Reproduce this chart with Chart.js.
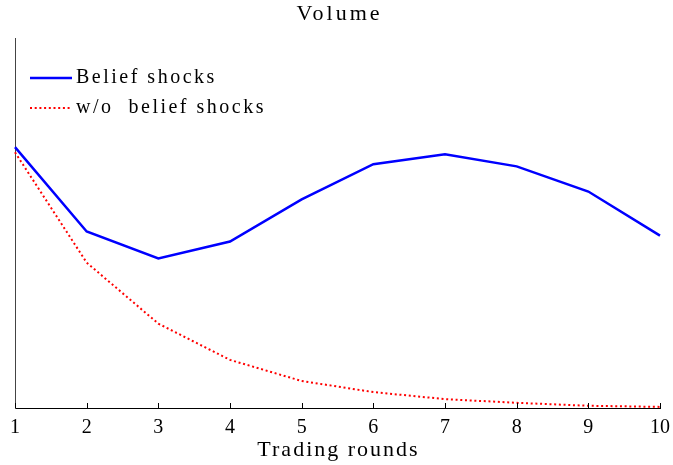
<!DOCTYPE html>
<html>
<head>
<meta charset="utf-8">
<script src="https://cdn.jsdelivr.net/npm/chart.js@4.4.0/dist/chart.umd.min.js"></script>
<style>
  html, body { margin: 0; padding: 0; background: #fff; }
  #wrap { width: 673px; height: 465px; }
</style>
</head>
<body>
<div id="wrap"><canvas id="chart"></canvas></div>
<script>
// trading rounds on the x axis
const rounds = ['1', '2', '3', '4', '5', '6', '7', '8', '9', '10'];
// volume (arbitrary units)
const beliefShocks = [0.705, 0.477, 0.404, 0.450, 0.564, 0.659, 0.686, 0.653, 0.585, 0.466];
const noBeliefShocks = [0.691, 0.393, 0.228, 0.130, 0.073, 0.043, 0.024, 0.014, 0.006, 0.003];
const seriesNames = ['Belief shocks', 'w/o  belief shocks'];
const chartTitle = 'Volume';
const xTitle = 'Trading rounds';

const serif = 'Liberation Serif, Times New Roman, serif';

// title, x axis title, upward tick marks and the legend in the top left corner
const extras = {
  id: 'extras',
  afterDraw(c) {
    const ctx = c.ctx;
    const xs = c.scales.x, ys = c.scales.y;
    ctx.save();
    ctx.strokeStyle = '#000';
    ctx.lineWidth = 1;
    rounds.forEach((r, i) => {
      const px = Math.round(xs.getPixelForValue(i)) + 0.5;
      ctx.beginPath();
      ctx.moveTo(px, ys.bottom);
      ctx.lineTo(px, ys.bottom - 5);
      ctx.stroke();
    });

    const mid = (c.chartArea.left + c.chartArea.right) / 2;
    ctx.fillStyle = '#000';
    ctx.textBaseline = 'middle';
    ctx.textAlign = 'center';
    ctx.font = '22px ' + serif;
    ctx.letterSpacing = '3px';
    ctx.fillText(chartTitle, mid + 2, 14);
    ctx.letterSpacing = '2px';
    ctx.fillText(xTitle, mid + 1, 450);

    // legend
    const rows = [78, 108];
    ctx.textAlign = 'left';
    c.data.datasets.forEach((ds, i) => {
      const y = rows[i];
      ctx.beginPath();
      ctx.strokeStyle = ds.borderColor;
      ctx.lineWidth = ds.borderWidth;
      ctx.setLineDash(ds.borderDash || []);
      ctx.moveTo(30, y);
      ctx.lineTo(72, y);
      ctx.stroke();
      ctx.setLineDash([]);
      ctx.font = '20px ' + serif;
      ctx.letterSpacing = '2.5px';
      ctx.fillText(ds.label, 76, y);
    });
    ctx.restore();
  }
};

new Chart(document.getElementById('chart'), {
  type: 'line',
  data: {
    labels: rounds,
    datasets: [
      {
        label: seriesNames[0],
        data: beliefShocks,
        borderColor: '#0000ff',
        borderWidth: 2.5,
        pointRadius: 0,
        tension: 0
      },
      {
        label: seriesNames[1],
        data: noBeliefShocks,
        borderColor: '#ff0000',
        borderWidth: 2,
        borderDash: [2, 2.7],
        pointRadius: 0,
        tension: 0
      }
    ]
  },
  options: {
    responsive: true,
    maintainAspectRatio: false,
    animation: false,
    layout: { padding: { left: 15, right: 13, top: 38, bottom: 26 } },
    plugins: {
      legend: { display: false },
      tooltip: { enabled: false },
      title: { display: false }
    },
    scales: {
      x: {
        offset: false,
        grid: { display: false, drawTicks: false },
        border: { display: true, color: '#000', width: 1 },
        ticks: { color: '#000', padding: 10, font: { family: serif, size: 20, lineHeight: 1 }, maxRotation: 0, autoSkip: false },
        afterFit(scale) {
          scale.height = 31;
          scale.paddingLeft = 0;
          scale.paddingRight = 0;
        }
      },
      y: {
        min: 0,
        max: 1,
        grid: { display: false, drawTicks: false },
        border: { display: true, color: '#444', width: 1 },
        ticks: { display: false },
        afterFit(scale) {
          scale.width = 0;
        }
      }
    }
  },
  plugins: [extras]
});
</script>
</body>
</html>
